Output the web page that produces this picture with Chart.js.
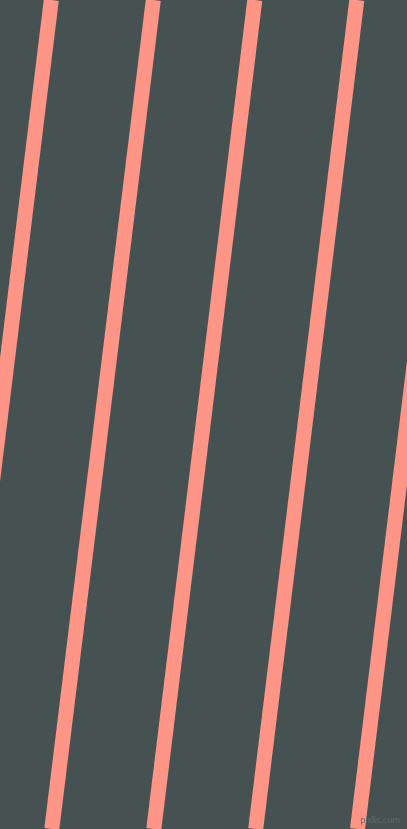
<!DOCTYPE html>
<html>
<head>
<meta charset="utf-8">
<script src="https://cdn.jsdelivr.net/npm/chart.js@4"></script>
<style>
html, body { margin: 0; padding: 0; background: #465252; overflow: hidden; }
#wrap { position: relative; width: 407px; height: 829px; }
#marca { position: absolute; right: 7px; bottom: 4px; font-family: "Liberation Sans", sans-serif; font-size: 9px; color: #5f6a6a; }
</style>
</head>
<body>
<div id="wrap">
  <canvas id="myChart"></canvas>
  <div id="marca">pixlis.com</div>
</div>
<script>
// posicion x de cada franja arriba (y=0) y abajo (y=829)
var xArriba = [51.3, 153.3, 254.8, 356.8, 458.5];
var xAbajo = [-50.0, 51.8, 153.8, 255.7, 357.5];
var alto = [0, 829];
var colorFranja = "#ff9587";

var datasets = [];
for (let i = 0; i < xArriba.length; i++) {
    datasets.push({
        data: [{x: xArriba[i], y: alto[0]}, {x: xAbajo[i], y: alto[1]}],
        borderColor: colorFranja,
        borderWidth: 15,
        borderCapStyle: "butt",
        pointRadius: 0,
        tension: 0
    });
}

var graficar = document.getElementById("myChart").getContext("2d");
var myChart = new Chart(graficar, {
    type: "line",
    data: {datasets: datasets},
    options: {
        responsive: true,
        maintainAspectRatio: false,
        animation: false,
        layout: {padding: 0},
        plugins: {legend: {display: false}, tooltip: {enabled: false}},
        scales: {
            x: {type: "linear", min: 0, max: 407, display: false},
            y: {type: "linear", min: 0, max: 829, reverse: true, display: false}
        }
    }
});
</script>
</body>
</html>
